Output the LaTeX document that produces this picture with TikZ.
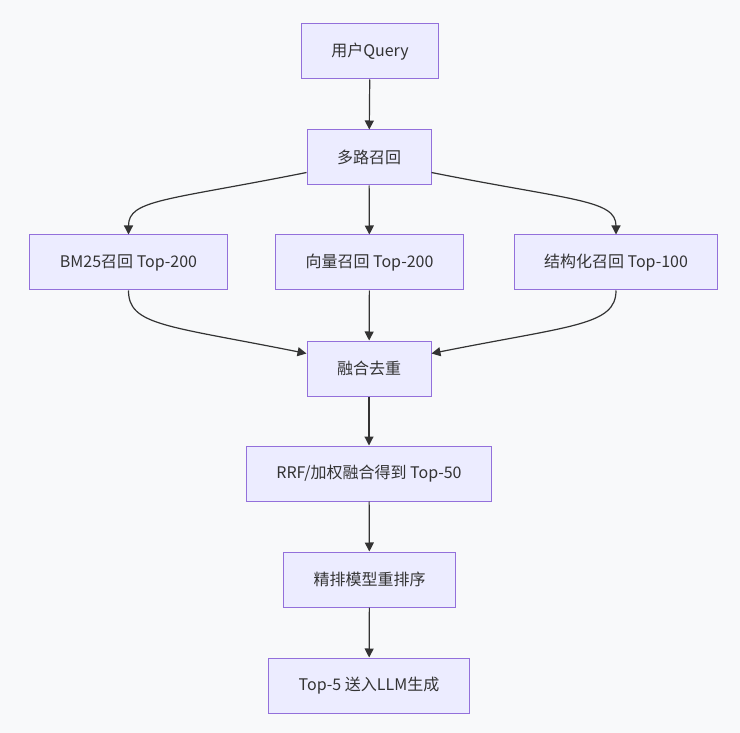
\documentclass[tikz,border=0pt]{standalone}
\usepackage{fontspec}
\setmainfont{Noto Sans CJK SC}
\usetikzlibrary{positioning,arrows.meta,calc}

\definecolor{nodefill}{HTML}{ECECFF}
\definecolor{nodeline}{HTML}{9370DB}
\definecolor{edgeline}{HTML}{333333}
\definecolor{bgcol}{HTML}{F8F9FA}

\tikzset{
  box/.style={draw=nodeline,fill=nodefill,line width=1pt,minimum height=55pt,
    inner xsep=30pt,text=edgeline,font=\fontsize{16}{19}\selectfont},
  arr/.style={draw=edgeline,line width=1.2pt,-{Triangle[length=9pt,width=9pt]}}
}

\begin{document}
\begin{tikzpicture}[x=1pt,y=-1pt]
  \fill[bgcol](0,0) rectangle (740,733);
  \useasboundingbox(0,0) rectangle (740,733);
  % nodes
  \node[box] (query) at (370,51.5){用户Query};
  \node[box] (multi) at (369,157.5){多路召回};
  \node[box] (bm25) at (128.5,262.5){BM25召回 Top-200};
  \node[box] (vec) at (369.5,262.5){向量召回 Top-200};
  \node[box] (struct) at (616,262.5){结构化召回 Top-100};
  \node[box] (fuse) at (369,368.5){融合去重};
  \node[box] (rrf) at (369,473.5){RRF/加权融合得到 Top-50};
  \node[box] (rank) at (369.5,579.5){精排模型重排序};
  \node[box] (gen) at (369,685.5){Top-5 送入LLM生成};
  % edges
  \draw[arr](query)--(multi);
  \draw[arr]([yshift=13pt]multi.south west) .. controls +(-140,28) and +(0,-35) .. (bm25.north);
  \draw[arr](multi)--(vec);
  \draw[arr]([yshift=13pt]multi.south east) .. controls +(140,28) and +(0,-35) .. (struct.north);
  \draw[arr](bm25.south) .. controls +(0,35) and +(-140,-28) .. ([yshift=-13pt]fuse.north west);
  \draw[arr](vec)--(fuse);
  \draw[arr](struct.south) .. controls +(0,35) and +(140,-28) .. ([yshift=-13pt]fuse.north east);
  \draw[arr](fuse)--(rrf);
  \draw[arr](rrf)--(rank);
  \draw[arr](rank)--(gen);
\end{tikzpicture}
\end{document}
